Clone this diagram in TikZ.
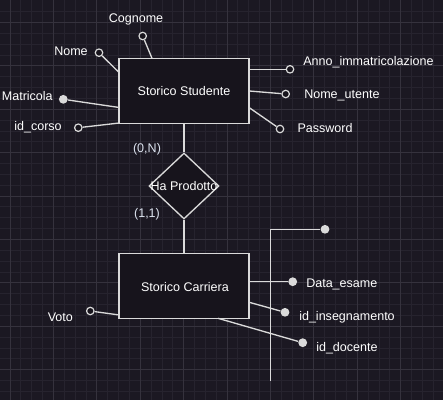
\documentclass[tikz,border=0pt]{standalone}
\usepackage{fontspec}
\setmainfont{Liberation Sans}
\usetikzlibrary{shapes.geometric}
\definecolor{bgcol}{HTML}{1B1822}
\definecolor{boxcol}{HTML}{17141C}
\definecolor{gridmin}{HTML}{26232E}
\definecolor{gridmaj}{HTML}{35323D}
\definecolor{inkcol}{HTML}{DADADA}
\definecolor{cardcol}{HTML}{DCE3EF}
\begin{document}
\begin{tikzpicture}[x=0.75pt, y=-0.75pt,
    entita/.style={draw=inkcol, line width=1pt, fill=boxcol, minimum width=97.5pt, minimum height=48.75pt, inner sep=0pt},
    relaz/.style={draw=inkcol, line width=1pt, fill=boxcol, diamond, minimum width=52.5pt, minimum height=49.5pt, inner sep=0pt},
    attr/.style={circle, draw=inkcol, line width=0.9pt, fill=boxcol, minimum size=5.6pt, inner sep=0pt},
    attrkey/.style={circle, fill=inkcol, minimum size=6.6pt, inner sep=0pt},
    lbl/.style={text=white, font=\fontsize{9.4}{11}\selectfont, inner sep=0pt},
    card/.style={text=cardcol, font=\fontsize{9.4}{11}\selectfont, inner sep=0pt},
    link/.style={draw=inkcol, line width=1pt}]
    % sfondo con griglia
    \fill[bgcol] (0,0) rectangle (443,400);
    \useasboundingbox (0,0) rectangle (443,400);
    \foreach \k in {-1,...,40} {
        \draw[gridmin, line width=0.6pt] ({10+10.85*\k},0) -- ({10+10.85*\k},400);
        \draw[gridmin, line width=0.6pt] (0,{22.4+10.85*\k}) -- (443,{22.4+10.85*\k});
    }
    \foreach \k in {0,...,10} {
        \draw[gridmaj, line width=0.7pt] ({10+43.4*\k},0) -- ({10+43.4*\k},400);
        \draw[gridmaj, line width=0.7pt] (0,{22.4+43.4*\k}) -- (443,{22.4+43.4*\k});
    }

    % entita e relazione
    \node[entita] (stud) at (184,90.8) {};
    \node[lbl] at (stud) {Storico Studente};
    \node[relaz] (ha) at (184,186) {};
    \node[lbl] at (ha) {Ha Prodotto};
    \node[entita] (carr) at (184,285.8) {};
    \node[lbl] at (185,286.7) {Storico Carriera};

    \draw[link] (stud.south) -- (ha.north);
    \draw[link] (ha.south) -- (carr.north);
    \node[card] (cn) at (147,149) {(0,N)};
    \node[card] (cu) at (147,214.3) {(1,1)};

    % attributi di Storico Studente
    \coordinate (sCog) at (152,58.3);
    \coordinate (sNom) at (119.3,72.7);
    \coordinate (sMat) at (119.3,107.5);
    \coordinate (sCor) at (119.3,123);
    \coordinate (sAnn) at (249.3,69.3);
    \coordinate (sUte) at (249.3,91);
    \coordinate (sPas) at (249.3,107.7);

    \node[attr] (cog) at (142.7,36) {};
    \node[attr] (nom) at (99,52.7) {};
    \node[attrkey] (mat) at (63.3,99.3) {};
    \node[attr] (cor) at (78.3,127.7) {};
    \node[attr] (ann) at (290,69.3) {};
    \node[attr] (ute) at (285.7,94) {};
    \node[attr] (pas) at (280,129) {};

    \draw[link] (cog) -- (sCog);
    \draw[link] (nom) -- (sNom);
    \draw[link] (mat) -- (sMat);
    \draw[link] (cor) -- (sCor);
    \draw[link] (sAnn) -- (ann);
    \draw[link] (sUte) -- (ute);
    \draw[link] (sPas) -- (pas);

    \node[lbl] at (136,19.3) {Cognome};
    \node[lbl] at (71,51.7) {Nome};
    \node[lbl] at (27.3,96) {Matricola};
    \node[lbl] at (38,127.7) {id\_corso};
    \node[lbl, anchor=west] at (303,62.7) {Anno\_immatricolazione};
    \node[lbl, anchor=west] at (304,95.7) {Nome\_utente};
    \node[lbl, anchor=west] at (297.3,127.7) {Password};

    % attributi di Storico Carriera
    \coordinate (cVot) at (119.3,315);
    \coordinate (cDat) at (249.3,281.7);
    \coordinate (cIns) at (249.3,302.3);
    \coordinate (cDoc) at (218,318.3);

    \node[attr] (vot) at (90.3,311) {};
    \node[attrkey] (dat) at (292.7,281.7) {};
    \node[attrkey] (ins) at (285,312.3) {};
    \node[attrkey] (doc) at (302.7,342.7) {};

    \draw[link] (vot) -- (cVot);
    \draw[link] (cDat) -- (dat);
    \draw[link] (cIns) -- (ins);
    \draw[link] (cDoc) -- (doc);

    \node[lbl] at (60.3,317.3) {Voto};
    \node[lbl, anchor=west] at (306,284) {Data\_esame};
    \node[lbl, anchor=west] at (299,317.3) {id\_insegnamento};
    \node[lbl, anchor=west] at (316,348.3) {id\_docente};

    % linea isolata
    \coordinate (vBot) at (270.7,381);
    \coordinate (vTop) at (270.7,229.3);
    \node[attrkey] (sol) at (325,229.3) {};
    \draw[link] (vBot) -- (vTop) -- (sol);
\end{tikzpicture}
\end{document}
